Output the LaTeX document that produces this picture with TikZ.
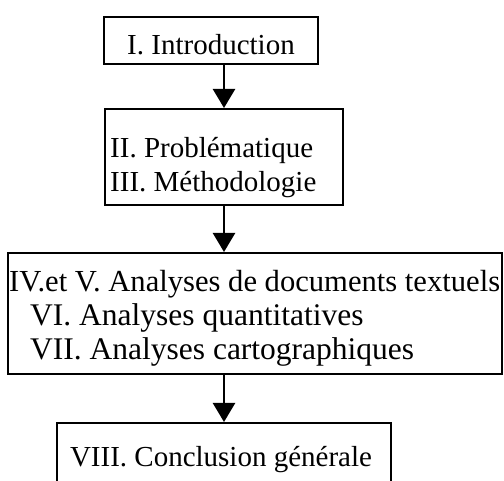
\documentclass[tikz,border=0pt]{standalone}
\usepackage{fontspec}
\setmainfont{Liberation Serif}
\usetikzlibrary{arrows.meta}
\begin{document}
\begin{tikzpicture}[x=1pt,y=-1pt,
  box/.style={draw=black,line width=2pt,rectangle,inner sep=0pt},
  txt/.style={inner sep=0pt,font=\fontsize{29}{34}\selectfont},
  bigtxt/.style={inner sep=0pt,font=\fontsize{31.5}{34}\selectfont},
  arr/.style={draw=black,line width=2.4pt,-{Triangle[width=22pt,length=19pt]}}]
\useasboundingbox (0,0) rectangle (504,481);
\clip (0,0) rectangle (504,481);
\node[box,minimum width=214pt,minimum height=47pt] (b1) at (211,40.5) {};
\node[box,minimum width=238pt,minimum height=96pt] (b2) at (224,157) {};
\node[box,minimum width=494pt,minimum height=121pt] (b3) at (255,313.5) {};
\node[box,minimum width=334pt,minimum height=98pt] (b4) at (224,472) {};
\node[txt,anchor=base] (t1) at (211,55) {I. Introduction};
\node[txt,anchor=base west] (t2a) at (110,158) {II. Problématique};
\node[txt,anchor=base west] (t2b) at (110,192) {III. Méthodologie};
\node[inner sep=0pt,font=\fontsize{30.6}{34}\selectfont,anchor=base west] (t3a) at (9,292) {IV.et V. Analyses de documents textuels};
\node[bigtxt,anchor=base west] (t3b) at (30,326) {VI. Analyses quantitatives};
\node[bigtxt,anchor=base west] (t3c) at (30,360) {VII. Analyses cartographiques};
\node[txt,anchor=base] (t4) at (221,467) {VIII. Conclusion générale};
\draw[arr] (b1.south -| b2.north) -- (b2.north);
\draw[arr] (b2.south) -- (b2.south |- b3.north);
\draw[arr] (b4.north |- b3.south) -- (b4.north);
\end{tikzpicture}
\end{document}
